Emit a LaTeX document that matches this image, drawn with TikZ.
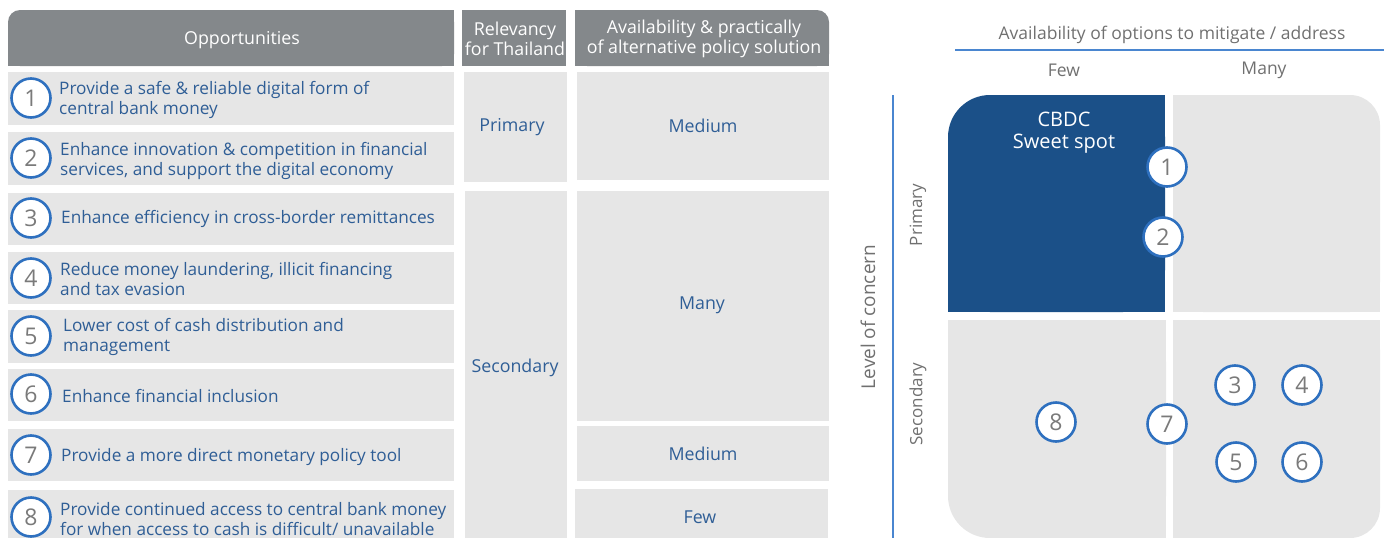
\documentclass[tikz,border=0pt]{standalone}
\usepackage{fontspec}
\setmainfont{Open Sans}
\definecolor{hdrgray}{HTML}{84888B}
\definecolor{cellgray}{HTML}{E6E6E6}
\definecolor{txtblue}{HTML}{2F5E96}
\definecolor{ringblue}{HTML}{2E70BF}
\definecolor{numgray}{HTML}{7A7A7A}
\definecolor{quadblue}{HTML}{1B5088}
\definecolor{axisblue}{HTML}{4A86D0}
\definecolor{axisgray}{HTML}{707070}
\tikzset{
  rowtxt/.style={anchor=west,align=left,text=txtblue,inner sep=0pt,font=\fontsize{17.2}{19.5}\selectfont},
  celltxt/.style={text=txtblue,inner sep=0pt,font=\fontsize{17.8}{20}\selectfont},
  hdrtxt/.style={text=white,align=center,inner sep=0pt,font=\fontsize{17.8}{20}\selectfont},
  numc/.style={circle,draw=ringblue,line width=2.6pt,fill=white,minimum size=39pt,inner sep=0pt,text=numgray,font=\fontsize{23}{23}\selectfont},
  axtxt/.style={text=axisgray,inner sep=0pt,font=\fontsize{17.5}{18}\selectfont},
}
\begin{document}
\begin{tikzpicture}[x=1pt,y=-1pt]
\useasboundingbox (0,0) rectangle (1384,538);
% headers
\fill[hdrgray,rounded corners=12pt] (8,10) rectangle (454,66);
\fill[hdrgray] (8,30) rectangle (454,66);
\fill[hdrgray] (30,10) rectangle (454,66);
\fill[hdrgray] (462,10) rectangle (566,66);
\fill[hdrgray,rounded corners=12pt] (575,10) rectangle (829,66);
\fill[hdrgray] (575,30) rectangle (829,66);
\fill[hdrgray] (575,10) rectangle (800,66);
\node[hdrtxt] (hopp) at (242,40) {Opportunities};
\node[hdrtxt] (hrel) at (515,39) {Relevancy\\for Thailand};
\node[hdrtxt] (havl) at (704,39) {Availability \& practically\\of alternative policy solution};
% rows
\foreach \i/\a/\b in {1/72/125,2/132/185,3/193/245,4/252/304,5/310/363,6/369/421,7/429/481,8/490/538}{
  \fill[cellgray] (8,\a) rectangle (454,\b);
}
\node[numc] (c1) at (31,98) {1};
\node[numc] (c2) at (31,158) {2};
\node[numc] (c3) at (31,218) {3};
\node[numc] (c4) at (31,278) {4};
\node[numc] (c5) at (31,336) {5};
\node[numc] (c6) at (31,394) {6};
\node[numc] (c7) at (31,455) {7};
\node[numc] (c8) at (31,517) {8};
\node[rowtxt] (t1) at (59,100) {Provide a safe \& reliable digital form of\\central bank money};
\node[rowtxt] (t2) at (60,161) {Enhance innovation \& competition in financial\\services, and support the digital economy};
\node[rowtxt] (t3) at (61,219) {Enhance efficiency in cross-border remittances};
\node[rowtxt] (t4) at (60,279) {Reduce money laundering, illicit financing\\and tax evasion};
\node[rowtxt] (t5) at (63,337) {Lower cost of cash distribution and\\management};
\node[rowtxt] (t6) at (62,396) {Enhance financial inclusion};
\node[rowtxt] (t7) at (61,457) {Provide a more direct monetary policy tool};
\node[rowtxt] (t8) at (60,519) {Provide continued access to central bank money\\for when access to cash is difficult/ unavailable};
% relevancy
\fill[cellgray] (464,72) rectangle (567,182);
\fill[cellgray] (465,191) rectangle (567,538);
\node[celltxt] (rp) at (512,127) {Primary};
\node[celltxt] (rs) at (515,368) {Secondary};
% availability
\fill[cellgray] (577,72) rectangle (829,180);
\fill[cellgray] (577,191) rectangle (829,421);
\fill[cellgray] (577,426) rectangle (829,481);
\fill[cellgray] (575,489) rectangle (828,538);
\node[celltxt] (a1) at (703,126) {Medium};
\node[celltxt] (a2) at (702,305) {Many};
\node[celltxt] (a3) at (703,454) {Medium};
\node[celltxt] (a4) at (700,517) {Few};
% matrix
\node[axtxt] (xt) at (1172,35) {Availability of options to mitigate / address};
\draw[axisblue,line width=1.6pt] (955,50) -- (1384,50);
\node[axtxt] (xf) at (1064,70) {Few};
\node[axtxt] (xm) at (1264,70) {Many};
\draw[axisblue,line width=1.6pt] (893,95) -- (893,538);
\node[axtxt,rotate=90,font=\fontsize{19}{19}\selectfont] (yl) at (868,317) {Level of concern};
\node[axtxt,rotate=90,font=\fontsize{17}{17}\selectfont] (yp) at (918,215) {Primary};
\node[axtxt,rotate=90,font=\fontsize{17}{17}\selectfont] (ys) at (918,404) {Secondary};
% quadrants
\fill[quadblue,rounded corners=42pt] (948,95) rectangle (1165,312);
\fill[quadblue] (948,150) rectangle (1165,312);
\fill[quadblue] (1000,95) rectangle (1165,312);
\fill[cellgray,rounded corners=30pt] (1173,95) rectangle (1380,312);
\fill[cellgray] (1173,140) rectangle (1380,312);
\fill[cellgray] (1173,95) rectangle (1340,312);
\fill[cellgray,rounded corners=42pt] (948,320) rectangle (1166,538);
\fill[cellgray] (948,320) rectangle (1166,480);
\fill[cellgray] (1000,320) rectangle (1166,538);
\fill[cellgray,rounded corners=30pt] (1173,320) rectangle (1380,538);
\fill[cellgray] (1173,320) rectangle (1380,490);
\fill[cellgray] (1173,320) rectangle (1340,538);
\node[text=white,align=center,inner sep=0pt,font=\fontsize{20}{22}\selectfont] (sw) at (1064,133) {CBDC\\Sweet spot};
\node[numc] (m1) at (1167,167) {1};
\node[numc] (m2) at (1163,237) {2};
\node[numc] (m8) at (1056,422) {8};
\node[numc] (m7) at (1167,424) {7};
\node[numc] (m3) at (1235,385) {3};
\node[numc] (m4) at (1302,385) {4};
\node[numc] (m5) at (1236,462) {5};
\node[numc] (m6) at (1302,462) {6};
\end{tikzpicture}
\end{document}
